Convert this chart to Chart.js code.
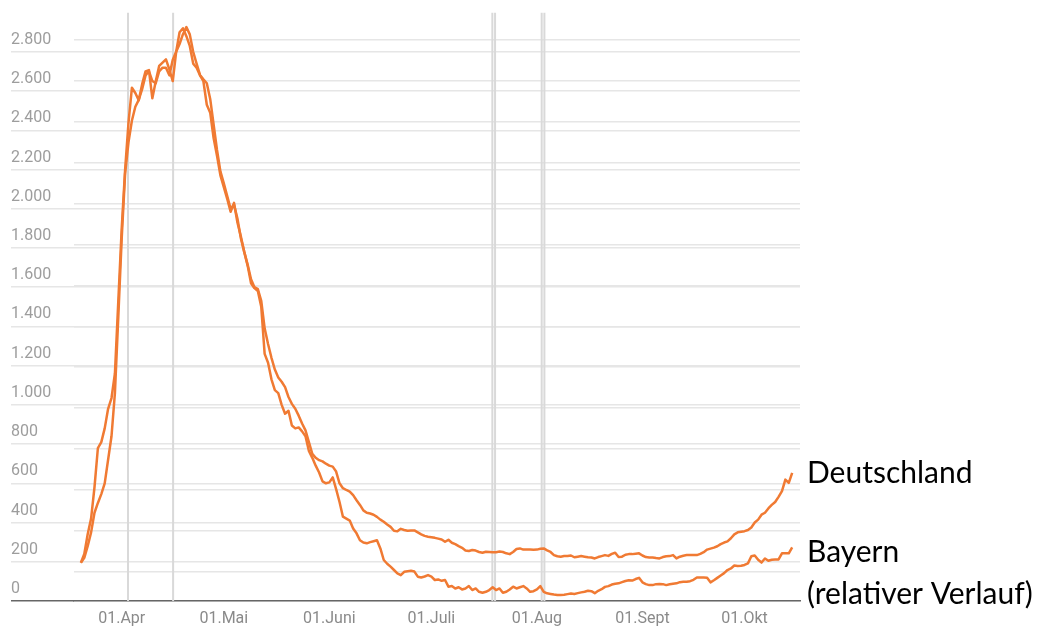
<!DOCTYPE html>
<html lang="de">
<head>
  <meta charset="UTF-8">
  <title>Deutschland / Bayern</title>
  <script src="https://cdn.jsdelivr.net/npm/chart.js"></script>
  <style>
    html, body { margin: 0; padding: 0; background: #fff; }
  </style>
</head>
<body>
  <canvas id="casesChart" width="1056" height="639"></canvas>
  <script>
    // Tage gezählt ab 01.Apr (0), erster Wert am 20. März
    const firstDay = -12;

    const deutschland = [
      195, 220, 280, 350, 450, 500, 545, 600, 720, 840, 1060, 1450,
      1850, 2180, 2340, 2450, 2520, 2555, 2610, 2680, 2702, 2651,
      2640, 2700, 2719, 2719, 2680, 2760, 2800, 2840, 2890, 2926,
      2889, 2800, 2740, 2682, 2660, 2640, 2560, 2430, 2300, 2190,
      2130, 2065, 2000, 2020, 1950, 1850, 1780, 1715, 1640, 1600,
      1590, 1530, 1390, 1310, 1240, 1180, 1140, 1118, 1090, 1040,
      1005, 980, 945, 905, 870, 810, 750, 730, 718, 712,
      700, 690, 685, 660, 600, 575, 566, 558, 540, 514,
      490, 462, 450, 446, 440, 429, 415, 404, 390, 378,
      358, 355, 368, 362, 358, 360, 360, 350, 340, 332,
      328, 325, 322, 318, 314, 302, 312, 297, 290, 280,
      271, 258, 255, 260, 257, 250, 246, 251, 250, 248,
      249, 252, 250, 243, 239, 250, 265, 268, 262, 263,
      262, 261, 262, 266, 268, 258, 250, 234, 228, 226,
      229, 229, 232, 223, 226, 229, 226, 223, 222, 217,
      224, 229, 234, 230, 240, 246, 224, 226, 236, 239,
      239, 241, 243, 232, 224, 222, 222, 219, 217, 224,
      228, 229, 234, 217, 226, 231, 234, 234, 234, 234,
      240, 249, 262, 267, 272, 279, 290, 298, 304, 320,
      340, 350, 353, 356, 362, 375, 400, 415, 440, 450,
      472, 490, 505, 531, 560, 619, 602, 653
    ];

    const bayern = [
      195, 240, 340, 420, 580, 780, 810, 880, 980, 1035, 1160, 1530,
      1900, 2200, 2440, 2617, 2590, 2553, 2635, 2700, 2707, 2563,
      2650, 2728, 2745, 2762, 2710, 2651, 2800, 2900, 2920, 2880,
      2830, 2740, 2719, 2680, 2650, 2530, 2490, 2360, 2270, 2170,
      2110, 2050, 1985, 2030, 1930, 1860, 1780, 1710, 1620, 1595,
      1580, 1500, 1260, 1215, 1130, 1075, 1060, 1000, 955, 970,
      895, 880, 885, 865, 840, 765, 730, 690, 655, 610,
      600, 605, 630, 570, 505, 430, 420, 410, 370, 345,
      310, 298, 294, 300, 305, 310, 268, 209, 190, 175,
      158, 141, 132, 149, 152, 154, 150, 124, 120, 125,
      132, 124, 107, 110, 103, 107, 73, 76, 64, 70,
      59, 64, 76, 56, 64, 47, 42, 47, 56, 70,
      56, 64, 42, 47, 59, 73, 64, 70, 76, 64,
      47, 50, 59, 76, 47, 39, 36, 33, 31, 31,
      32, 35, 38, 36, 40, 44, 47, 52, 50, 40,
      52, 60, 72, 76, 84, 88, 90, 96, 102, 106,
      104, 112, 118, 95, 86, 81, 81, 86, 87, 86,
      81, 85, 88, 90, 96, 98, 98, 101, 108, 120,
      120, 120, 118, 95, 106, 118, 130, 142, 158, 166,
      181, 179, 180, 184, 192, 228, 232, 210, 196, 217,
      205, 210, 211, 212, 243, 243, 243, 273
    ];

    const monthTicks = [0, 30, 61, 91, 122, 153, 183];
    const monthLabels = ['01.Apr', '01.Mai', '01.Juni', '01.Juli', '01.Aug', '01.Sept', '01.Okt'];
    const yTicks = [0, 200, 400, 600, 800, 1000, 1200, 1400, 1600, 1800, 2000, 2200, 2400, 2600, 2800];
    // Raster der zweiten, darübergelegten Grafik
    const overlayGrid = [0, 1, 2, 3, 4, 5, 6, 7, 8, 9, 10, 11, 12, 13];
    // graue Markierungslinien
    const markerDays = [1.85, 15.1, 108.9, 109.7, 123.4, 124.2];

    const orange = '#f07a33';
    const gridColor = '#e6e6e6';

    function toPoints(values) {
      return values.map((v, i) => ({ x: firstDay + i, y: v }));
    }

    function formatDe(v) {
      return String(v).replace(/\B(?=(\d{3})+(?!\d))/g, '.');
    }

    const endLabels = {
      id: 'endLabels',
      afterDatasetsDraw(chart) {
        const { ctx, chartArea, scales } = chart;
        const x = chartArea.right + 7;
        ctx.save();
        ctx.font = '30px Lato';
        ctx.fillStyle = '#000';
        ctx.textBaseline = 'middle';
        ctx.fillText('Deutschland', x, scales.y.getPixelForValue(deutschland[deutschland.length - 1]));
        const yb = scales.y.getPixelForValue(bayern[bayern.length - 1]) + 5;
        ctx.fillText('Bayern', x, yb);
        ctx.fillText('(relativer Verlauf)', x, yb + 42);
        ctx.restore();
      }
    };

    const lineStyle = {
      borderColor: orange,
      borderWidth: 2.5,
      pointRadius: 0,
      borderJoinStyle: 'round',
      tension: 0,
      order: 1
    };

    const markerSets = markerDays.map(d => ({
      data: [{ x: d, y: 0 }, { x: d, y: 3000 }],
      borderColor: '#d9d9d9',
      borderWidth: 2,
      pointRadius: 0,
      order: 5
    }));

    const ctx = document.getElementById('casesChart').getContext('2d');
    new Chart(ctx, {
      type: 'line',
      data: {
        datasets: [
          Object.assign({ label: 'Deutschland', data: toPoints(deutschland) }, lineStyle),
          Object.assign({ label: 'Bayern', data: toPoints(bayern) }, lineStyle),
          ...markerSets
        ]
      },
      options: {
        responsive: false,
        animation: false,
        devicePixelRatio: 1,
        layout: { padding: { left: 11, right: 256, top: 11.5, bottom: 0 } },
        plugins: {
          legend: { display: false },
          tooltip: { enabled: false }
        },
        scales: {
          x: {
            type: 'linear',
            min: -14.02,
            max: 199.3,
            afterBuildTicks: s => { s.ticks = monthTicks.map(v => ({ value: v })); },
            afterFit: s => { s.height = 38; },
            grid: { display: false, drawTicks: false },
            border: { color: '#666', width: 1.5 },
            ticks: {
              autoSkip: false,
              maxRotation: 0,
              padding: 8,
              color: '#8a8a8a',
              font: { family: 'Roboto', size: 16 },
              callback: v => monthLabels[monthTicks.indexOf(v)]
            }
          },
          y: {
            position: 'left',
            min: 0,
            max: 3000,
            afterBuildTicks: s => { s.ticks = yTicks.map(v => ({ value: v })); },
            afterFit: s => { s.width = 63; },
            border: { display: false },
            grid: {
              color: gridColor,
              lineWidth: 1.5,
              tickLength: 63,
              tickColor: c => (c.tick && c.tick.value === 0 ? '#666' : gridColor)
            },
            ticks: {
              crossAlign: 'far',
              labelOffset: -12,
              color: '#9d9d9d',
              font: { family: 'Roboto', size: 16 },
              callback: v => formatDe(v)
            }
          },
          y2: {
            position: 'right',
            min: -0.715,
            max: 13.67,
            afterBuildTicks: s => { s.ticks = overlayGrid.map(v => ({ value: v })); },
            afterFit: s => { s.width = 0; },
            border: { display: false },
            grid: { color: gridColor, lineWidth: 1.5, drawTicks: false },
            ticks: { display: false }
          }
        }
      },
      plugins: [endLabels]
    });
  </script>
</body>
</html>
